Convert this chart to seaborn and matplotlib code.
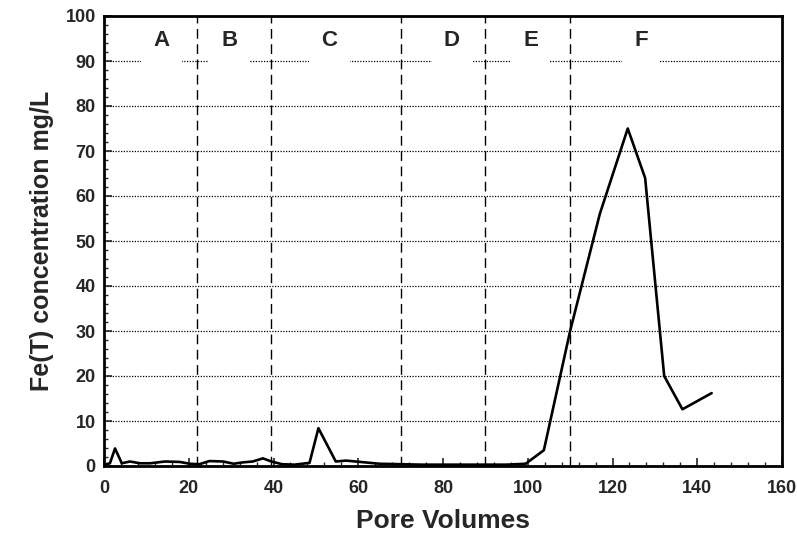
import pandas as pd
import numpy as np
import matplotlib
matplotlib.use("Agg")
import matplotlib.pyplot as plt
import seaborn as sns
from matplotlib.ticker import MultipleLocator

# Fe(T) breakthrough data
pore_volumes = [0.0, 1.4, 2.6, 4.2, 6.1, 8.5, 10.9, 14.4, 17.9, 20.2, 22.5, 24.9, 28.1,
                30.6, 32.7, 35.1, 37.5, 39.5, 42.0, 45.0, 48.5, 50.6, 54.7, 57.1,
                59.4, 65.0, 70.0, 75.0, 80.0, 85.0, 90.0, 95.0, 99.5, 103.8, 110.0,
                117.0, 123.6, 127.7, 132.2, 136.5, 143.4]
fe_conc = [0.3, 0.6, 3.9, 0.6, 1.0, 0.6, 0.6, 1.0, 0.9, 0.5, 0.4, 1.1, 1.0,
           0.5, 0.8, 1.0, 1.7, 1.0, 0.4, 0.3, 0.7, 8.4, 1.0, 1.2,
           1.0, 0.5, 0.4, 0.3, 0.3, 0.3, 0.3, 0.3, 0.5, 3.5, 30.0,
           56.0, 75.0, 64.0, 20.0, 12.6, 16.2]

# zone boundaries and labels
zone_bounds = [22, 39.5, 70, 90, 110]
zone_names = ["A", "B", "C", "D", "E", "F"]
zone_label_x = [13.6, 29.6, 53.2, 82.1, 100.7, 126.8]
zone_label_y = 94.5

df = pd.DataFrame({"Pore Volumes": pore_volumes, "Fe(T)": fe_conc})

sns.set_style("white")
plt.rcParams["font.family"] = ["Liberation Sans", "DejaVu Sans"]
plt.rcParams["font.weight"] = "bold"

fig = plt.figure(figsize=(7.97, 5.38), dpi=100)
ax = fig.add_axes([104 / 797, 1 - 466 / 538, 678 / 797, 450 / 538])

sns.lineplot(data=df, x="Pore Volumes", y="Fe(T)", color="black", linewidth=1.9, ax=ax)

ax.set_xlim(0, 160)
ax.set_ylim(0, 100)
ax.xaxis.set_major_locator(MultipleLocator(20))
ax.xaxis.set_minor_locator(MultipleLocator(4))
ax.yaxis.set_major_locator(MultipleLocator(10))
ax.yaxis.set_minor_locator(MultipleLocator(2))

# dotted horizontal grid
ax.set_axisbelow(True)
ax.yaxis.grid(True, which="major", color="black", linestyle=(0, (1, 1.2)), linewidth=0.9)
ax.xaxis.grid(False)

for xb in zone_bounds:
    ax.axvline(xb, color="black", linestyle=(0, (7, 4)), linewidth=1.0, zorder=1)

for name, xl in zip(zone_names, zone_label_x):
    ax.text(xl, zone_label_y, name, ha="center", va="center", fontsize=16, fontweight="bold",
            bbox=dict(boxstyle="square,pad=0.55", fc="white", ec="none"), zorder=4)

ax.tick_params(axis="both", which="major", direction="in", length=6, width=1.2,
               labelsize=13, left=True, bottom=True)
ax.tick_params(axis="x", which="major", pad=10)
ax.tick_params(axis="y", which="major", pad=6)
ax.tick_params(axis="both", which="minor", direction="in", length=3, width=1,
               left=True, bottom=True)
for lab in ax.get_xticklabels() + ax.get_yticklabels():
    lab.set_fontweight("bold")

for sp in ax.spines.values():
    sp.set_color("black")
    sp.set_linewidth(2.0)

ax.set_xlabel("Pore Volumes", fontsize=19, fontweight="bold", labelpad=9)
ax.set_ylabel("Fe(T) concentration mg/L", fontsize=18, fontweight="bold", labelpad=8)

fig.savefig("out.png", dpi=100)
